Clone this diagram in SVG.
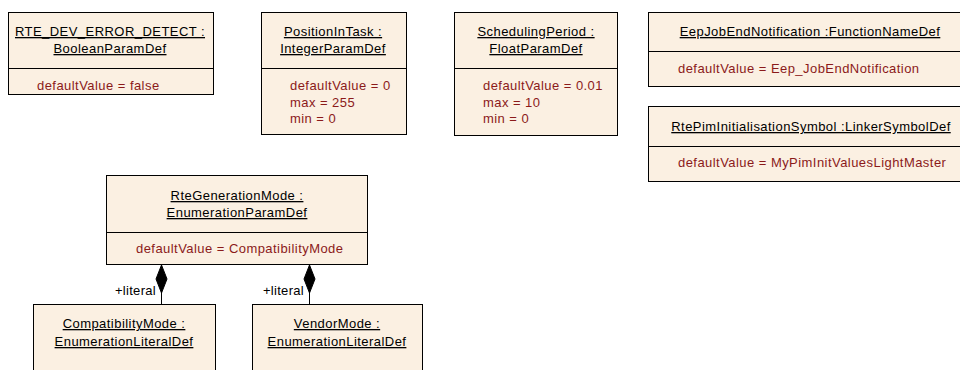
<svg xmlns="http://www.w3.org/2000/svg" width="960" height="370" viewBox="0 0 960 370">
<style>
.box{fill:#FBF0E2;stroke:#000;stroke-width:1}
.div{stroke:#000;stroke-width:1}
.t{font-family:"Liberation Sans",Arial,sans-serif;font-size:13px;letter-spacing:0.45px;fill:#000;text-anchor:middle;text-decoration:underline}
.a{font-family:"Liberation Sans",Arial,sans-serif;font-size:13px;letter-spacing:0.45px;fill:#8B1A1A}
.l{font-family:"Liberation Sans",Arial,sans-serif;font-size:13px;letter-spacing:0.3px;fill:#000;text-anchor:end}
.c{stroke:#000;stroke-width:1;fill:none}
.d{fill:#000;stroke:#000}
</style>
<rect width="960" height="370" fill="#fff"/>
<g id="rte_dev_error_detect">
<rect class="box" x="8.5" y="12.5" width="205" height="82"/>
<line class="div" x1="8.5" y1="68.5" x2="213.5" y2="68.5"/>
<text class="t" x="110" y="36">RTE_DEV_ERROR_DETECT :</text>
<text class="t" x="110" y="53">BooleanParamDef</text>
<text class="a" x="37" y="90">defaultValue = false</text>
</g>
<g id="position_in_task">
<rect class="box" x="261.5" y="12.5" width="145" height="122"/>
<line class="div" x1="261.5" y1="68.5" x2="406.5" y2="68.5"/>
<text class="t" x="333" y="36">PositionInTask :</text>
<text class="t" x="333" y="53">IntegerParamDef</text>
<text class="a" x="290" y="90">defaultValue = 0</text>
<text class="a" x="290" y="107">max = 255</text>
<text class="a" x="290" y="123">min = 0</text>
</g>
<g id="scheduling_period">
<rect class="box" x="454.5" y="12.5" width="163" height="123"/>
<line class="div" x1="454.5" y1="68.5" x2="617.5" y2="68.5"/>
<text class="t" x="536" y="36">SchedulingPeriod :</text>
<text class="t" x="536" y="53">FloatParamDef</text>
<text class="a" x="483" y="90">defaultValue = 0.01</text>
<text class="a" x="483" y="107">max = 10</text>
<text class="a" x="483" y="123">min = 0</text>
</g>
<g id="eep_job_end_notification">
<rect class="box" x="648.5" y="12.5" width="330" height="74"/>
<line class="div" x1="648.5" y1="51.5" x2="978.5" y2="51.5"/>
<text class="t" x="810" y="36">EepJobEndNotification :FunctionNameDef</text>
<text class="a" x="678" y="73">defaultValue = Eep_JobEndNotification</text>
</g>
<g id="rte_pim_initialisation_symbol">
<rect class="box" x="648.5" y="106.5" width="330" height="75"/>
<line class="div" x1="648.5" y1="146.5" x2="978.5" y2="146.5"/>
<text class="t" x="811" y="131">RtePimInitialisationSymbol :LinkerSymbolDef</text>
<text class="a" x="678" y="167">defaultValue = MyPimInitValuesLightMaster</text>
</g>
<g id="rte_generation_mode">
<rect class="box" x="106.5" y="175.5" width="261" height="89"/>
<line class="div" x1="106.5" y1="232.5" x2="367.5" y2="232.5"/>
<text class="t" x="237" y="200">RteGenerationMode :</text>
<text class="t" x="237" y="217">EnumerationParamDef</text>
<text class="a" x="136" y="253">defaultValue = CompatibilityMode</text>
</g>
<g id="compatibility_mode">
<rect class="box" x="33.5" y="304.5" width="182" height="80"/>
<text class="t" x="124" y="328">CompatibilityMode :</text>
<text class="t" x="124" y="346">EnumerationLiteralDef</text>
</g>
<g id="vendor_mode">
<rect class="box" x="252.5" y="304.5" width="170" height="80"/>
<text class="t" x="337" y="328">VendorMode :</text>
<text class="t" x="337" y="346">EnumerationLiteralDef</text>
</g>
<g id="connectors">
<line class="c" x1="161.5" y1="264" x2="161.5" y2="304"/>
<polygon class="d" points="161.5,265 167,279 161.5,293 156,279"/>
<text class="l" x="156" y="295">+literal</text>
<line class="c" x1="309.5" y1="264" x2="309.5" y2="304"/>
<polygon class="d" points="309.5,265 315,279 309.5,293 304,279"/>
<text class="l" x="304" y="295">+literal</text>
</g>
</svg>
